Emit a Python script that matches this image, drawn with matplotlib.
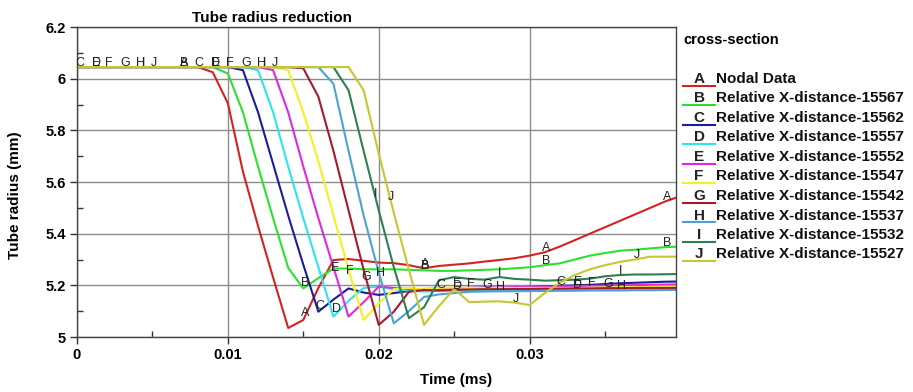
import numpy as np
import matplotlib.pyplot as plt
from matplotlib.lines import Line2D
from matplotlib.ticker import MultipleLocator

plt.rcParams['font.family'] = ['Liberation Sans', 'DejaVu Sans']

# time samples (ms)
time = [0.000, 0.001, 0.002, 0.003, 0.004, 0.005, 0.006, 0.007, 0.008, 0.009,
        0.010, 0.011, 0.012, 0.013, 0.014, 0.015, 0.016, 0.017, 0.018, 0.019,
        0.020, 0.021, 0.022, 0.023, 0.024, 0.025, 0.026, 0.027, 0.028, 0.029,
        0.030, 0.031, 0.032, 0.033, 0.034, 0.035, 0.036, 0.037, 0.038, 0.039,
        0.040]

# tube radius (mm) per cross-section
r_A = [6.045, 6.045, 6.045, 6.045, 6.045, 6.045, 6.045, 6.045, 6.045, 6.025,
       5.905, 5.64, 5.43, 5.23, 5.035, 5.066, 5.19, 5.298, 5.302, 5.295,
       5.288, 5.286, 5.278, 5.266, 5.275, 5.28, 5.285, 5.292, 5.298, 5.305,
       5.315, 5.328, 5.35, 5.375, 5.40, 5.425, 5.45, 5.475, 5.50, 5.525,
       5.545]
r_B = [6.045, 6.045, 6.045, 6.045, 6.045, 6.045, 6.045, 6.045, 6.045, 6.045,
       6.02, 5.87, 5.66, 5.46, 5.268, 5.188, 5.228, 5.265, 5.265, 5.262,
       5.262, 5.262, 5.26, 5.258, 5.256, 5.256, 5.258, 5.26, 5.262, 5.266,
       5.27, 5.278, 5.285, 5.30, 5.315, 5.325, 5.334, 5.338, 5.343, 5.348,
       5.35]
r_C = [6.045, 6.045, 6.045, 6.045, 6.045, 6.045, 6.045, 6.045, 6.045, 6.045,
       6.045, 6.033, 5.87, 5.67, 5.47, 5.28, 5.098, 5.145, 5.188, 5.172,
       5.163, 5.17, 5.178, 5.182, 5.186, 5.19, 5.19, 5.192, 5.19, 5.192,
       5.194, 5.196, 5.198, 5.20, 5.202, 5.205, 5.208, 5.21, 5.212, 5.214,
       5.215]
r_D = [6.045, 6.045, 6.045, 6.045, 6.045, 6.045, 6.045, 6.045, 6.045, 6.045,
       6.045, 6.045, 6.033, 5.87, 5.66, 5.46, 5.27, 5.079, 5.14, 5.19,
       5.195, 5.185, 5.18, 5.176, 5.178, 5.18, 5.182, 5.18, 5.178, 5.18,
       5.182, 5.18, 5.182, 5.184, 5.185, 5.184, 5.186, 5.186, 5.186, 5.187,
       5.188]
r_E = [6.045, 6.045, 6.045, 6.045, 6.045, 6.045, 6.045, 6.045, 6.045, 6.045,
       6.045, 6.045, 6.045, 6.033, 5.87, 5.66, 5.46, 5.27, 5.079, 5.135,
       5.195, 5.19, 5.185, 5.186, 5.188, 5.19, 5.19, 5.191, 5.192, 5.193,
       5.194, 5.195, 5.196, 5.197, 5.198, 5.199, 5.20, 5.201, 5.202, 5.203,
       5.204]
r_F = [6.045, 6.045, 6.045, 6.045, 6.045, 6.045, 6.045, 6.045, 6.045, 6.045,
       6.045, 6.045, 6.045, 6.045, 6.033, 5.87, 5.68, 5.47, 5.26, 5.066,
       5.13, 5.185, 5.19, 5.185, 5.19, 5.192, 5.19, 5.19, 5.19, 5.19,
       5.19, 5.19, 5.19, 5.19, 5.191, 5.192, 5.193, 5.193, 5.194, 5.195,
       5.195]
r_G = [6.045, 6.045, 6.045, 6.045, 6.045, 6.045, 6.045, 6.045, 6.045, 6.045,
       6.045, 6.045, 6.045, 6.045, 6.045, 6.04, 5.93, 5.72, 5.49, 5.26,
       5.047, 5.098, 5.175, 5.182, 5.18, 5.182, 5.184, 5.185, 5.185, 5.186,
       5.186, 5.187, 5.187, 5.188, 5.188, 5.189, 5.189, 5.19, 5.19, 5.19,
       5.19]
r_H = [6.045, 6.045, 6.045, 6.045, 6.045, 6.045, 6.045, 6.045, 6.045, 6.045,
       6.045, 6.045, 6.045, 6.045, 6.045, 6.045, 6.045, 5.98, 5.72, 5.47,
       5.25, 5.053, 5.10, 5.155, 5.165, 5.17, 5.175, 5.176, 5.177, 5.177,
       5.178, 5.178, 5.179, 5.179, 5.18, 5.18, 5.18, 5.181, 5.181, 5.182,
       5.182]
r_I = [6.045, 6.045, 6.045, 6.045, 6.045, 6.045, 6.045, 6.045, 6.045, 6.045,
       6.045, 6.045, 6.045, 6.045, 6.045, 6.045, 6.045, 6.045, 5.955, 5.72,
       5.49, 5.27, 5.073, 5.115, 5.22, 5.232, 5.225, 5.222, 5.232, 5.225,
       5.222, 5.218, 5.22, 5.222, 5.226, 5.235, 5.24, 5.242, 5.242, 5.243,
       5.244]
r_J = [6.045, 6.045, 6.045, 6.045, 6.045, 6.045, 6.045, 6.045, 6.045, 6.045,
       6.045, 6.045, 6.045, 6.045, 6.045, 6.045, 6.045, 6.045, 6.045, 5.955,
       5.71, 5.48, 5.26, 5.047, 5.12, 5.185, 5.135, 5.137, 5.138, 5.133,
       5.124, 5.17, 5.21, 5.24, 5.262, 5.278, 5.291, 5.30, 5.311, 5.311,
       5.311]

# where each curve carries its letter tag (ms)
tags_A = [0.0071, 0.0151, 0.0231, 0.0311, 0.0391]
tags_B = [0.0071, 0.0151, 0.0231, 0.0311, 0.0391]
tags_C = [0.0002, 0.0081, 0.0161, 0.0241, 0.0321]
tags_D = [0.0013, 0.0092, 0.0172, 0.0252, 0.0332]
tags_E = [0.0013, 0.0092, 0.0171, 0.0252, 0.0332]
tags_F = [0.0021, 0.0101, 0.0181, 0.0261, 0.0341]
tags_G = [0.0032, 0.0112, 0.0192, 0.0272, 0.0352]
tags_H = [0.0042, 0.0122, 0.0201, 0.0281, 0.0361]
tags_I = [0.0044, 0.0124, 0.0198, 0.0280, 0.0360]
tags_J = [0.0051, 0.0131, 0.0208, 0.0291, 0.0371]

letters = ['A', 'B', 'C', 'D', 'E', 'F', 'G', 'H', 'I', 'J']
names = ['Nodal Data', 'Relative X-distance-15567', 'Relative X-distance-15562',
         'Relative X-distance-15557', 'Relative X-distance-15552',
         'Relative X-distance-15547', 'Relative X-distance-15542',
         'Relative X-distance-15537', 'Relative X-distance-15532',
         'Relative X-distance-15527']
colors = ['#d42222', '#2ee02e', '#1c1c9c', '#2ee4ec', '#e028e0',
          '#f4f024', '#a8182e', '#4ca2d2', '#2f7f52', '#c8c630']

xticks = [0, 0.01, 0.02, 0.03]
xtick_labels = ['0', '0.01', '0.02', '0.03']
yticks = [5, 5.2, 5.4, 5.6, 5.8, 6, 6.2]
ytick_labels = ['5', '5.2', '5.4', '5.6', '5.8', '6', '6.2']

radii = [r_A, r_B, r_C, r_D, r_E, r_F, r_G, r_H, r_I, r_J]
tags = [tags_A, tags_B, tags_C, tags_D, tags_E, tags_F, tags_G, tags_H, tags_I, tags_J]

fig = plt.figure(figsize=(9.13, 3.92), dpi=100)
ax = fig.add_axes([0.0843, 0.1403, 0.6561, 0.7908])

for r, c in zip(radii, colors):
    ax.plot(time, r, color=c, lw=1.5)

# letter tags sitting on the curves
for r, tt, let in zip(radii, tags, letters):
    for t in tt:
        ax.annotate(let, (t, np.interp(t, time, r)), xytext=(0, 3),
                    textcoords='offset points', ha='center', va='center',
                    fontsize=9, color='#222222', clip_on=True)

ax.set_xlim(0, 0.0397)
ax.set_ylim(5, 6.2)
ax.set_xticks(xticks)
ax.set_xticklabels(xtick_labels, fontsize=10.5, fontweight='bold')
ax.set_yticks(yticks)
ax.set_yticklabels(ytick_labels, fontsize=10.5, fontweight='bold')
ax.xaxis.set_minor_locator(MultipleLocator(0.005))
ax.yaxis.set_minor_locator(MultipleLocator(0.1))
ax.tick_params(which='major', direction='out', length=5, width=1, color='#333333', pad=3)
ax.tick_params(which='minor', direction='in', length=4, width=1, color='#333333')
ax.grid(True, which='major', color='#8c8c8c', lw=1)
for s in ax.spines.values():
    s.set_color('#444444')
    s.set_linewidth(1)

fig.text(272 / 913, 1 - 18 / 392, 'Tube radius reduction', ha='center', va='center',
         fontsize=11, fontweight='bold')
fig.text(456 / 913, 1 - 380 / 392, 'Time (ms)', ha='center', va='center',
         fontsize=11, fontweight='bold')
fig.text(15 / 913, 1 - 195 / 392, 'Tube radius (mm)', ha='center', va='center',
         rotation=90, fontsize=11, fontweight='bold')

# legend on the right
fig.text(683 / 913, 1 - 40 / 392, 'cross-section', ha='left', va='center',
         fontsize=10.5, fontweight='bold')
for i, (let, name, c) in enumerate(zip(letters, names, colors)):
    yc = 79 + 19.5 * i
    fig.add_artist(Line2D([683 / 913, 715 / 913], [1 - (yc + 6.5) / 392] * 2,
                          color=c, lw=1.5))
    fig.text(699 / 913, 1 - yc / 392, let, ha='center', va='center',
             fontsize=11, fontweight='bold', color='#222222')
    fig.text(716 / 913, 1 - yc / 392, name, ha='left', va='center',
             fontsize=11, fontweight='bold', color='#111111')

fig.savefig('out.png', dpi=100)
